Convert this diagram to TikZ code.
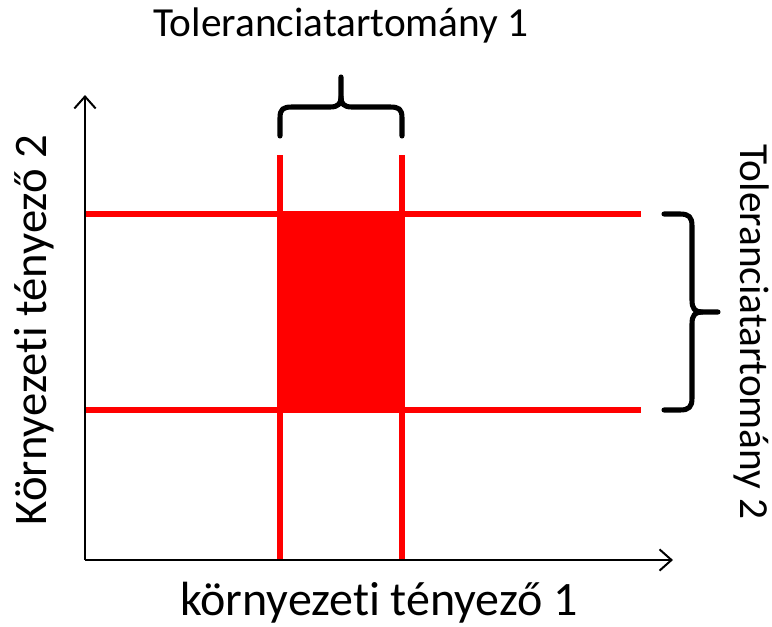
\documentclass[tikz,border=0pt]{standalone}
\usepackage{fontspec}
\setmainfont{Carlito}[Ligatures=NoCommon]
\usetikzlibrary{arrows.meta}
\begin{document}
\begin{tikzpicture}[x=0.75pt,y=-0.75pt,
  axis/.style={line width=1.5pt,-{Straight Barb[length=9pt,width=16pt,line width=1.5pt]}},
  redline/.style={red,line width=3.8pt},
  bracestyle/.style={line width=3.8pt,line cap=round,line join=round},
  lbl/.style={font=\fontsize{31}{37}\selectfont,inner sep=0pt},
  axlbl/.style={font=\fontsize{35}{42}\selectfont,inner sep=0pt}]
\useasboundingbox (0,0) rectangle (772,626);
% coordinates
\coordinate (O) at (85,560);
\coordinate (ytop) at (85,95);
\coordinate (xend) at (673,560);
% filled region
\fill[red] (280,214) rectangle (402,410);
% red lines
\draw[redline] (280,155) -- (280,560);
\draw[redline] (402,155) -- (402,560);
\draw[redline] (85,214) -- (641,214);
\draw[redline] (85,410) -- (641,410);
% axes
\draw[axis] (O) -- (ytop);
\draw[axis] (O) -- (xend);
% top brace
\draw[bracestyle] (280,136) -- (280,118) .. controls (280,109) and (283,107) .. (292,107)
  -- (330,107) .. controls (338,107) and (341,104) .. (341,97) -- (341,77);
\draw[bracestyle] (402,136) -- (402,118) .. controls (402,109) and (399,107) .. (390,107)
  -- (352,107) .. controls (344,107) and (341,104) .. (341,97);
% right brace
\draw[bracestyle] (664,214) -- (680,214) .. controls (689,214) and (692,217) .. (692,226)
  -- (692,300) .. controls (692,309) and (695,312) .. (702,312) -- (718,312);
\draw[bracestyle] (664,410) -- (680,410) .. controls (689,410) and (692,407) .. (692,398)
  -- (692,324) .. controls (692,315) and (695,312) .. (702,312);
% labels
\node[lbl] (t1) at (341,25) {Toleranciatartomány 1};
\node[lbl,rotate=-90] (t2) at (752,332) {Toleranciatartomány 2};
\node[axlbl,rotate=90] (k2) at (34,330) {Környezeti tényező 2};
\node[axlbl,font=\fontsize{36}{43}\selectfont] (k1) at (379,603) {környezeti tényező 1};
\end{tikzpicture}
\end{document}
